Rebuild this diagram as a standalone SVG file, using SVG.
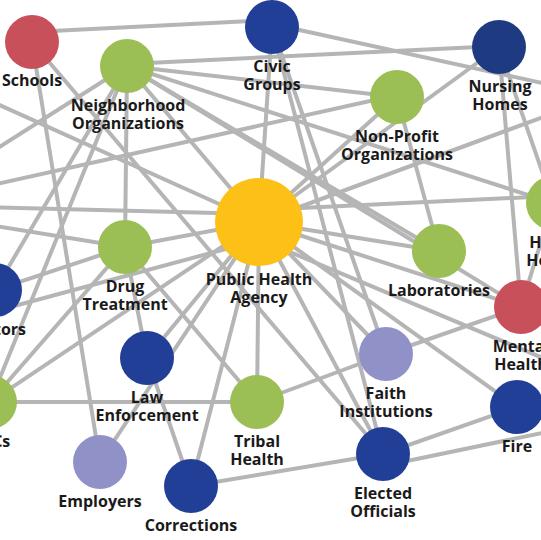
<svg xmlns="http://www.w3.org/2000/svg" width="541" height="540" viewBox="0 0 541 540">
<style>
.e line{stroke:#b5b5b5;stroke-width:4;stroke-linecap:butt}
text{font-family:"Open Sans","DejaVu Sans",sans-serif;font-weight:700;font-size:16px;fill:#1a1a1a;text-anchor:middle}
.red{fill:#c8505a}.grn{fill:#9cbf55}.blu{fill:#213f97}.dbl{fill:#1e3b82}.lav{fill:#8f91c7}.yel{fill:#fcc016}
</style>
<rect width="541" height="540" fill="#ffffff"/>
<g id="connectors" class="e">
<line x1="32" y1="32" x2="272" y2="20"/>
<line x1="272" y1="24" x2="620" y2="100"/>
<line x1="127" y1="64" x2="499" y2="46"/>
<line x1="127" y1="66" x2="397" y2="97"/>
<line x1="-30" y1="190" x2="397" y2="95"/>
<line x1="397" y1="97" x2="259" y2="222"/>
<line x1="499" y1="47" x2="259" y2="222"/>
<line x1="259" y1="222" x2="600" y2="96"/>
<line x1="259" y1="210" x2="553" y2="196"/>
<line x1="-20" y1="207" x2="259" y2="214"/>
<line x1="127" y1="66" x2="553" y2="203"/>
<line x1="397" y1="97" x2="439" y2="251"/>
<line x1="499" y1="47" x2="521" y2="307"/>
<line x1="499" y1="47" x2="553" y2="203"/>
<line x1="272" y1="27" x2="383" y2="454"/>
<line x1="272" y1="27" x2="386" y2="354"/>
<line x1="272" y1="27" x2="259" y2="222"/>
<line x1="32" y1="42" x2="100" y2="462"/>
<line x1="-45" y1="85" x2="259" y2="222"/>
<line x1="-40" y1="172" x2="127" y2="66"/>
<line x1="127" y1="66" x2="-5" y2="290"/>
<line x1="127" y1="66" x2="-10" y2="402"/>
<line x1="127" y1="66" x2="125" y2="247"/>
<line x1="32" y1="42" x2="383" y2="454"/>
<line x1="-30" y1="222" x2="125" y2="247"/>
<line x1="125" y1="247" x2="259" y2="222"/>
<line x1="-5" y1="290" x2="125" y2="247"/>
<line x1="-30" y1="318" x2="259" y2="240"/>
<line x1="125" y1="247" x2="257" y2="402"/>
<line x1="125" y1="247" x2="147" y2="358"/>
<line x1="125" y1="247" x2="-10" y2="402"/>
<line x1="-10" y1="402" x2="259" y2="222"/>
<line x1="-10" y1="402" x2="257" y2="402"/>
<line x1="147" y1="358" x2="191" y2="486"/>
<line x1="100" y1="462" x2="259" y2="222"/>
<line x1="191" y1="486" x2="259" y2="222"/>
<line x1="191" y1="486" x2="383" y2="454"/>
<line x1="257" y1="402" x2="259" y2="222"/>
<line x1="257" y1="402" x2="386" y2="354"/>
<line x1="259" y1="222" x2="383" y2="454"/>
<line x1="383" y1="454" x2="517" y2="407"/>
<line x1="383" y1="466" x2="600" y2="421"/>
<line x1="259" y1="222" x2="517" y2="407"/>
<line x1="259" y1="222" x2="439" y2="251"/>
<line x1="259" y1="222" x2="521" y2="307"/>
<line x1="259" y1="239" x2="600" y2="382"/>
<line x1="553" y1="203" x2="521" y2="307"/>
<line x1="386" y1="354" x2="521" y2="307"/>
<line x1="259" y1="222" x2="386" y2="354"/>
<line x1="127" y1="66" x2="439" y2="251"/>
<line x1="127" y1="66" x2="521" y2="307"/>
<line x1="127" y1="66" x2="259" y2="222"/>
<line x1="147" y1="358" x2="259" y2="222"/>
</g>
<g id="schools"><circle class="red" cx="32" cy="42" r="27"/><text x="32" y="86">Schools</text></g>
<g id="neighborhood"><circle class="grn" cx="127" cy="66" r="27"/><text x="128" y="111">Neighborhood</text><text x="128" y="129">Organizations</text></g>
<g id="civic"><circle class="blu" cx="272" cy="27" r="27"/><text x="272" y="72">Civic</text><text x="272" y="90">Groups</text></g>
<g id="nursing"><circle class="dbl" cx="499" cy="47" r="27"/><text x="500" y="92">Nursing</text><text x="500" y="110">Homes</text></g>
<g id="nonprofit"><circle class="grn" cx="397" cy="97" r="27"/><text x="397" y="142">Non-Profit</text><text x="397" y="160">Organizations</text></g>
<g id="public-health"><circle class="yel" cx="259" cy="222" r="44"/><text x="259" y="285">Public Health</text><text x="259" y="303">Agency</text></g>
<g id="drug"><circle class="grn" cx="125" cy="247" r="27"/><text x="125" y="292">Drug</text><text x="125" y="310">Treatment</text></g>
<g id="doctors"><circle class="blu" cx="-5" cy="290" r="27"/><text x="-5" y="335">Doctors</text></g>
<g id="labs"><circle class="grn" cx="439" cy="251" r="27"/><text x="439" y="296">Laboratories</text></g>
<g id="home-health"><circle class="grn" cx="553" cy="203" r="27"/><text x="553" y="248">Home</text><text x="553" y="266">Health</text></g>
<g id="mental-health"><circle class="red" cx="521" cy="307" r="27"/><text x="521" y="352">Mental</text><text x="521" y="370">Health</text></g>
<g id="law"><circle class="blu" cx="147" cy="358" r="27"/><text x="147" y="403">Law</text><text x="147" y="421">Enforcement</text></g>
<g id="faith"><circle class="lav" cx="386" cy="354" r="27"/><text x="386" y="399">Faith</text><text x="386" y="417">Institutions</text></g>
<g id="chcs"><circle class="grn" cx="-10" cy="402" r="27"/><text x="-10" y="447">CHCs</text></g>
<g id="tribal"><circle class="grn" cx="257" cy="402" r="27"/><text x="257" y="447">Tribal</text><text x="257" y="465">Health</text></g>
<g id="fire"><circle class="blu" cx="517" cy="407" r="27"/><text x="517" y="452">Fire</text></g>
<g id="employers"><circle class="lav" cx="100" cy="462" r="27"/><text x="100" y="507">Employers</text></g>
<g id="corrections"><circle class="blu" cx="191" cy="486" r="27"/><text x="191" y="531">Corrections</text></g>
<g id="elected"><circle class="blu" cx="383" cy="454" r="27"/><text x="383" y="499">Elected</text><text x="383" y="517">Officials</text></g>
</svg>
